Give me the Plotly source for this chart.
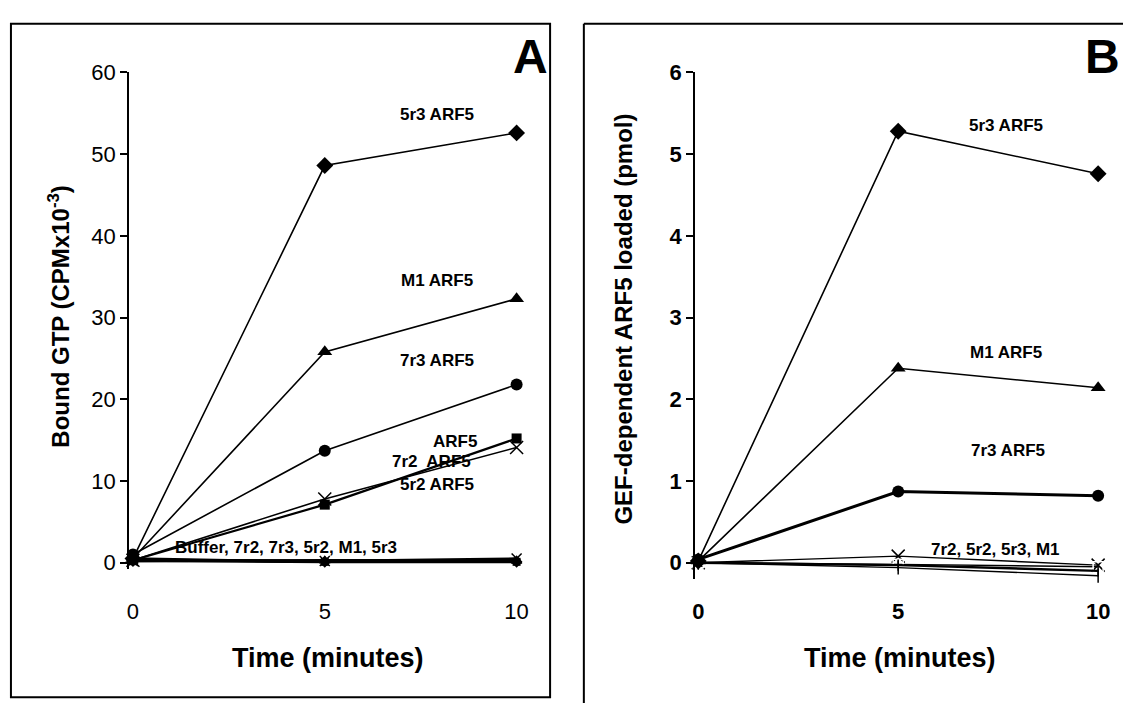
import plotly.graph_objects as go

W, H = 1128, 709
FONT = "Liberation Sans, Arial, sans-serif"

time_min = [0, 5, 10]

# Panel A: bound GTP (CPM x 10^-3)
a_5r3 = [0.5, 48.6, 52.6]
a_m1 = [0.5, 25.8, 32.3]
a_7r3 = [1.0, 13.7, 21.8]
a_7r2 = [0.3, 7.8, 14.1]
a_5r2 = [0.3, 7.1, 15.2]
a_buffer = [0.3, 0.1, 0.1]
a_ctrl_7r2 = [0.2, 0.2, 0.5]
a_ctrl_7r3 = [0.5, 0.1, 0.2]
a_ctrl_5r2 = [0.2, 0.3, 0.3]
a_ctrl_m1 = [0.3, 0.2, 0.2]
a_ctrl_5r3 = [0.4, 0.1, 0.1]

# Panel B: GEF-dependent ARF5 loaded (pmol)
b_5r3 = [0.02, 5.28, 4.76]
b_m1 = [0.02, 2.38, 2.14]
b_7r3 = [0.04, 0.87, 0.82]
b_7r2 = [0.0, 0.08, -0.03]
b_5r2 = [0.0, -0.02, -0.05]
b_5r3_ctrl = [0.0, -0.06, -0.16]
b_m1_ctrl = [0.0, -0.03, -0.10]

a_yticks = [0, 10, 20, 30, 40, 50, 60]
b_yticks = [0, 1, 2, 3, 4, 5, 6]
x_ticks = [0, 5, 10]


def px(x, y):
    return x / W, 1 - y / H


fig = go.Figure()


def add_series(xa, ya, values, symbol, size=11, width=1.6, name=""):
    open_sym = symbol.endswith("-open") or symbol in ("x-thin", "line-ns")
    fig.add_trace(go.Scatter(
        x=time_min, y=values, xaxis=xa, yaxis=ya, name=name,
        mode="lines+markers", cliponaxis=False,
        line=dict(color="black", width=width),
        marker=dict(symbol=symbol, size=size, color="black" if not open_sym else "white",
                    line=dict(color="black", width=1.5 if open_sym else 0)),
    ))


# Panel A traces
add_series("x", "y", a_buffer, "square", 8, 3.0, "Buffer")
add_series("x", "y", a_ctrl_7r2, "x-thin", 10, 2.5, "7r2")
add_series("x", "y", a_ctrl_7r3, "circle", 8, 2.5, "7r3")
add_series("x", "y", a_ctrl_5r2, "triangle-up", 10, 2.5, "5r2")
add_series("x", "y", a_ctrl_m1, "triangle-up", 10, 2.5, "M1")
add_series("x", "y", a_ctrl_5r3, "diamond", 9, 2.5, "5r3")
add_series("x", "y", a_5r3, "diamond", 13, 1.6, "5r3 ARF5")
add_series("x", "y", a_m1, "triangle-up", 13, 1.6, "M1 ARF5")
add_series("x", "y", a_7r3, "circle", 12, 1.6, "7r3 ARF5")
add_series("x", "y", a_7r2, "x-thin", 13, 1.6, "7r2 ARF5")
add_series("x", "y", a_5r2, "square", 10, 2.2, "5r2 ARF5")

# Panel B traces
add_series("x2", "y2", b_7r2, "x-thin", 13, 1.4, "7r2")
add_series("x2", "y2", b_5r2, "square-open", 10, 1.4, "5r2")
add_series("x2", "y2", b_5r3_ctrl, "line-ns", 10, 1.4, "5r3")
add_series("x2", "y2", b_m1_ctrl, "line-ns", 8, 2.4, "M1")
add_series("x2", "y2", b_5r3, "diamond", 13, 1.6, "5r3 ARF5")
add_series("x2", "y2", b_m1, "triangle-up", 13, 1.6, "M1 ARF5")
add_series("x2", "y2", b_7r3, "circle", 12, 3.0, "7r3 ARF5")

# Axis geometry (pixel positions converted to paper fractions)
a_x0, a_x1 = 127, 525
a_yt, a_yb = 62, 571.7
b_x0, b_x1 = 697, 1111
b_yt, b_yb = 62, 581.8

yaxis_common = dict(
    showgrid=False, zeroline=False, showline=True, linecolor="black", linewidth=2,
    ticks="outside", ticklen=7, tickwidth=2, tickcolor="black", mirror=False,
)
xaxis_common = dict(
    showgrid=False, zeroline=False, showline=False,
    ticks="outside", tickcolor="rgba(0,0,0,0)", tickvals=x_ticks,
)

fig.update_layout(
    width=W, height=H, margin=dict(l=0, r=0, t=0, b=0),
    paper_bgcolor="white", plot_bgcolor="white", showlegend=False,
    font=dict(family=FONT, color="black"),
    xaxis=dict(domain=[a_x0 / W, a_x1 / W], range=[-0.1, 10.2], anchor="y",
               ticklen=22, tickfont=dict(size=22), **xaxis_common),
    yaxis=dict(domain=[1 - a_yb / H, 1 - a_yt / H], range=[-0.8, 60], anchor="x",
               tickvals=a_yticks, tickfont=dict(size=22), **yaxis_common),
    xaxis2=dict(domain=[b_x0 / W, b_x1 / W], range=[-0.08, 10.2], anchor="y2",
                ticklen=13, tickfont=dict(size=22, weight="bold"), **xaxis_common),
    yaxis2=dict(domain=[1 - b_yb / H, 1 - b_yt / H], range=[-0.2, 6], anchor="x2",
                tickvals=b_yticks, tickfont=dict(size=22, weight="bold"), **yaxis_common),
)

# Panel frames: A is fully boxed; B's frame runs off the right and bottom edges
x0, y0 = px(8, 12)
x1, y1 = px(551, 703)
fig.add_shape(type="rect", xref="paper", yref="paper", x0=x0, y0=y1, x1=x1, y1=y0,
              line=dict(color="black", width=2))
bx0, by0 = px(585, 12)
bx1, by1 = px(1128, 709)
fig.add_shape(type="line", xref="paper", yref="paper", x0=bx0, y0=by0, x1=bx1, y1=by0,
              line=dict(color="black", width=2))
fig.add_shape(type="line", xref="paper", yref="paper", x0=bx0, y0=by0, x1=bx0, y1=by1,
              line=dict(color="black", width=2))

annotations = [
    # panel letters
    ("A", 531, 46, 48, 0),
    ("B", 1107, 46, 48, 0),
    # axis titles
    ("Time (minutes)", 327, 663, 27, 0),
    ("Time (minutes)", 903, 663, 27, 0),
    ("Bound GTP (CPMx10<sup>-3</sup>)", 56, 312, 24, -90),
    ("GEF-dependent ARF5 loaded (pmol)", 624, 315, 24, -90),
    # series labels, panel A
    ("5r3 ARF5", 437, 105, 17, 0),
    ("M1 ARF5", 437, 276, 17, 0),
    ("7r3 ARF5", 437, 358, 17, 0),
    ("ARF5", 455, 441, 17, 0),
    ("7r2  ARF5", 432, 461, 17, 0),
    ("5r2 ARF5", 437, 485, 17, 0),
    ("Buffer, 7r2, 7r3, 5r2, M1, 5r3", 285, 549, 17, 0),
    # series labels, panel B
    ("5r3 ARF5", 1010, 116, 17, 0),
    ("M1 ARF5", 1010, 349, 17, 0),
    ("7r3 ARF5", 1012, 450, 17, 0),
    ("7r2, 5r2, 5r3, M1", 1000, 551, 17, 0),
]
for text, cx, cy, size, angle in annotations:
    ax, ay = px(cx, cy)
    fig.add_annotation(
        text=text, x=ax, y=ay, xref="paper", yref="paper", showarrow=False,
        xanchor="center", yanchor="middle", textangle=angle,
        font=dict(family=FONT, size=size, color="black", weight="bold"),
    )

fig.write_html("out.html")
